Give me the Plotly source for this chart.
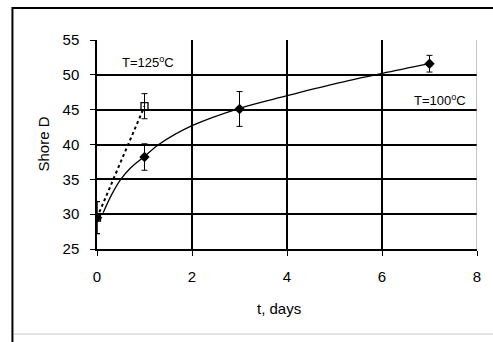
import plotly.graph_objects as go

# Measured hardness (Shore D) vs. curing time
t_100 = [0, 1, 3, 7]
shore_100 = [29.5, 38.2, 45.1, 51.6]
err_100 = [2.3, 1.9, 2.5, 1.2]

t_125 = [0, 1]
shore_125 = [29.5, 45.5]
err_125 = [2.3, 1.8]

# Smoothed trend curve for the 100 °C series
trend_t = [0.13, 0.3, 0.5, 0.7, 1.0, 1.3, 2.0, 3.0, 4.0, 5.0, 6.0, 7.0]
trend_shore = [30.2, 32.7, 35.0, 36.6, 38.3, 40.0, 42.7, 45.2, 47.0, 48.7, 50.2, 51.6]

x_ticks = [0, 2, 4, 6, 8]
y_ticks = [25, 30, 35, 40, 45, 50, 55]

FONT = "Arial, Liberation Sans, sans-serif"

fig = go.Figure()

fig.add_trace(go.Scatter(
    x=trend_t, y=trend_shore, mode="lines",
    line=dict(color="black", width=1.3, shape="spline"),
    hoverinfo="skip", showlegend=False,
))
fig.add_trace(go.Scatter(
    x=t_125, y=shore_125, mode="lines+markers",
    line=dict(color="black", width=2, dash="dot"),
    marker=dict(symbol="square-open", size=7, color="black", line=dict(width=1.3)),
    error_y=dict(type="data", array=err_125, color="black", thickness=1, width=3),
    showlegend=False,
))
fig.add_trace(go.Scatter(
    x=t_100, y=shore_100, mode="markers",
    marker=dict(symbol="diamond", size=8, color="black"),
    error_y=dict(type="data", array=err_100, color="black", thickness=1, width=3),
    showlegend=False,
))

fig.add_annotation(x=1.07, y=51.8, text="T=125<sup>o</sup>C", showarrow=False,
                   font=dict(family=FONT, size=13, color="black"))
fig.add_annotation(x=7.22, y=46.4, text="T=100<sup>o</sup>C", showarrow=False,
                   font=dict(family=FONT, size=13, color="black"))

# axis titles
fig.add_annotation(xref="paper", yref="paper", x=0.479, y=-0.285, text="t, days",
                   showarrow=False, yanchor="middle",
                   font=dict(family=FONT, size=15, color="black"))
fig.add_annotation(xref="paper", yref="paper", x=-0.142, y=0.5, text="Shore D",
                   showarrow=False, textangle=-90, xanchor="center",
                   font=dict(family=FONT, size=15, color="black"))

# right border of the plot area
fig.add_shape(type="line", xref="x", yref="paper", x0=8, x1=8, y0=0, y1=1,
              line=dict(color="#888888", width=1), layer="above")
# chart frame
fig.add_shape(type="rect", xref="paper", yref="paper",
              x0=-0.2225, x1=1.05, y0=-0.47, y1=1.153,
              line=dict(color="black", width=2))
fig.add_shape(type="line", xref="paper", yref="paper",
              x0=-0.218, x1=1.05, y0=-0.407, y1=-0.407,
              line=dict(color="#e4e4e4", width=2))

fig.update_layout(
    width=493, height=342,
    margin=dict(l=97, r=14, t=40, b=93),
    paper_bgcolor="white", plot_bgcolor="white",
    font=dict(family=FONT, size=15, color="black"),
    showlegend=False,
)
fig.update_xaxes(
    range=[0, 8], tickvals=x_ticks, showgrid=True, gridcolor="black", gridwidth=1.5,
    showline=True, linecolor="black", linewidth=1.5, zeroline=False,
    ticks="outside", ticklen=5, tickcolor="black", ticklabelstandoff=8,
)
fig.update_yaxes(
    range=[25, 55], tickvals=y_ticks, showgrid=True, gridcolor="black", gridwidth=1.5,
    showline=True, linecolor="black", linewidth=1.5, zeroline=False,
    ticks="outside", ticklen=5, tickcolor="black", ticklabelstandoff=8,
)

fig.write_html("out.html")
